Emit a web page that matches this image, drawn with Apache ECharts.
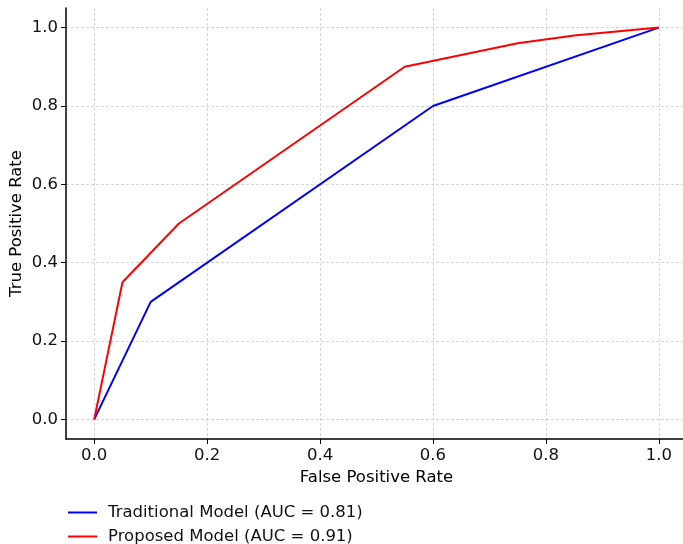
<!DOCTYPE html>
<html><head><meta charset="utf-8">
<script src="https://cdn.jsdelivr.net/npm/echarts@6/dist/echarts.min.js"></script>
<style>html,body{margin:0;padding:0;background:#fff}#c{width:683px;height:544px}</style>
</head><body><div id="c"></div>
<script>
const tickValues = [0, 0.2, 0.4, 0.6, 0.8, 1.0];
const tradFPR = [0, 0.1, 0.6, 1.0];
const tradTPR = [0, 0.3, 0.8, 1.0];
const propFPR = [0, 0.05, 0.15, 0.55, 0.75, 0.85, 1.0];
const propTPR = [0, 0.35, 0.5, 0.9, 0.96, 0.98, 1.0];
const seriesNames = ['Traditional Model (AUC = 0.81)', 'Proposed Model (AUC = 0.91)'];

const font = 'DejaVu Sans';
const fs = 16.5;
const chart = echarts.init(document.getElementById('c'));
function axisCommon(name, gap, rot) {
  return {
    type: 'value', min: -0.05, max: 1.05,
    name: name, nameLocation: 'middle', nameGap: gap, nameRotate: rot, nameMoveOverlap: false,
    nameTextStyle: {fontFamily: font, fontSize: fs, color: '#000'},
    axisLine: {show: true, onZero: false, lineStyle: {color: '#000', width: 1.5}},
    axisTick: {show: true, customValues: tickValues, length: 5, lineStyle: {color: '#000', width: 1}},
    axisLabel: {customValues: tickValues, fontFamily: font, fontSize: fs, color: '#111', margin: 8,
      formatter: v => v.toFixed(1)},
    splitLine: {show: true, lineStyle: {color: '#cccccc', type: [3, 2], width: 0.8}}
  };
}
const xa = axisCommon('False Positive Rate', 30, 0);
const ya = axisCommon('True Positive Rate', 41, 90);
function leg(i, top) {
  return {
    orient: 'vertical', left: 68, top: top, padding: 0,
    itemWidth: 29, itemHeight: 2, icon: 'rect',
    textStyle: {fontFamily: font, fontSize: fs, color: '#111', padding: [0, 0, 0, 6]},
    data: [seriesNames[i]]
  };
}
chart.setOption({
  animation: false,
  grid: {left: 66, width: 621, top: 8, bottom: 105, containLabel: false, outerBoundsMode: 'none'},
  xAxis: xa,
  yAxis: ya,
  legend: [leg(0, 504), leg(1, 528)],
  series: [
    {name: seriesNames[0], type: 'line', symbol: 'none', lineStyle: {color: '#0000ff', width: 2}, itemStyle: {color: '#0000ff'},
     data: tradFPR.map((x, i) => [x, tradTPR[i]])},
    {name: seriesNames[1], type: 'line', symbol: 'none', lineStyle: {color: '#ff0000', width: 2}, itemStyle: {color: '#ff0000'},
     data: propFPR.map((x, i) => [x, propTPR[i]])}
  ]
});
</script></body></html>
